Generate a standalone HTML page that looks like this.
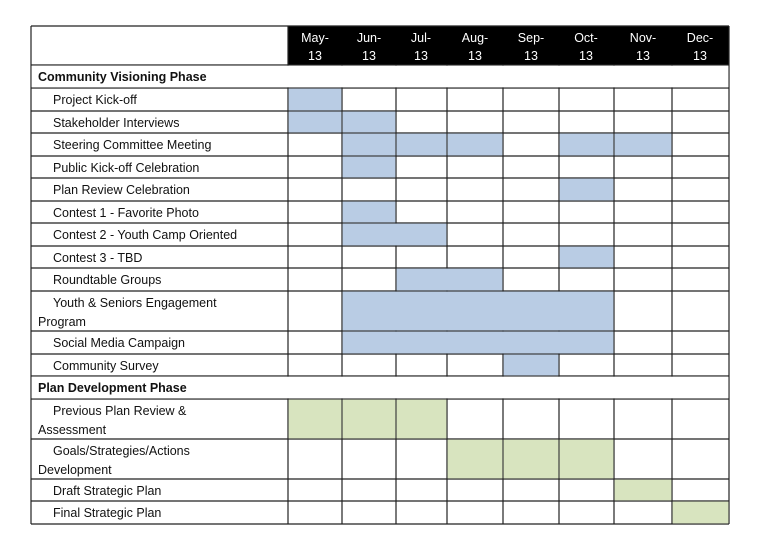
<!DOCTYPE html>
<html><head><meta charset="utf-8"><style>
body{margin:0;background:#fff;}
svg{display:block;}
text{font-family:"Liberation Sans",sans-serif;font-size:12.5px;fill:#111;}
</style></head><body>
<svg width="760" height="550" viewBox="0 0 760 550">
<rect x="288" y="26" width="441" height="39" fill="#000"/>
<g stroke="#222" stroke-width="1.2">
<!-- verticals full from 65 to 524 -->
<line x1="31" y1="26" x2="31" y2="524"/>
<line x1="729" y1="26" x2="729" y2="524"/>
<line x1="288" y1="26" x2="288" y2="524"/>
<line x1="342" y1="65" x2="342" y2="524"/>
<line x1="396" y1="65" x2="396" y2="524"/>
<line x1="447" y1="65" x2="447" y2="524"/>
<line x1="503" y1="65" x2="503" y2="524"/>
<line x1="559" y1="65" x2="559" y2="524"/>
<line x1="614" y1="65" x2="614" y2="524"/>
<line x1="672" y1="65" x2="672" y2="524"/>
<!-- horizontals -->
<line x1="31" y1="26" x2="729" y2="26"/>
<line x1="31" y1="65" x2="729" y2="65"/>
<line x1="31" y1="88" x2="729" y2="88"/>
<line x1="31" y1="111" x2="729" y2="111"/>
<line x1="31" y1="133" x2="729" y2="133"/>
<line x1="31" y1="156" x2="729" y2="156"/>
<line x1="31" y1="178" x2="729" y2="178"/>
<line x1="31" y1="201" x2="729" y2="201"/>
<line x1="31" y1="223" x2="729" y2="223"/>
<line x1="31" y1="246" x2="729" y2="246"/>
<line x1="31" y1="268" x2="729" y2="268"/>
<line x1="31" y1="291" x2="729" y2="291"/>
<line x1="31" y1="331" x2="729" y2="331"/>
<line x1="31" y1="354" x2="729" y2="354"/>
<line x1="31" y1="376" x2="729" y2="376"/>
<line x1="31" y1="399" x2="729" y2="399"/>
<line x1="31" y1="439" x2="729" y2="439"/>
<line x1="31" y1="479" x2="729" y2="479"/>
<line x1="31" y1="501" x2="729" y2="501"/>
<line x1="31" y1="524" x2="729" y2="524"/>
</g>
<!-- phase rows blank out verticals -->
<rect x="31.7" y="65.7" width="696.6" height="21.6" fill="#fff"/>
<rect x="31.7" y="376.7" width="696.6" height="21.6" fill="#fff"/>
<g fill="#b9cce4">
<rect x="288.6" y="88.6" width="52.8" height="21.8"/>
<rect x="288.6" y="111.6" width="52.8" height="20.8"/>
<rect x="342.6" y="111.6" width="52.8" height="20.8"/>
<rect x="342.6" y="133.6" width="52.8" height="21.8"/>
<rect x="396.6" y="133.6" width="49.8" height="21.8"/>
<rect x="447.6" y="133.6" width="54.8" height="21.8"/>
<rect x="559.6" y="133.6" width="53.8" height="21.8"/>
<rect x="614.6" y="133.6" width="56.8" height="21.8"/>
<rect x="342.6" y="156.6" width="52.8" height="20.8"/>
<rect x="559.6" y="178.6" width="53.8" height="21.8"/>
<rect x="342.6" y="201.6" width="52.8" height="20.8"/>
<rect x="342.6" y="223.6" width="103.8" height="21.8"/>
<rect x="559.6" y="246.6" width="53.8" height="20.8"/>
<rect x="396.6" y="268.6" width="105.8" height="21.8"/>
<rect x="342.6" y="291.6" width="270.8" height="38.8"/>
<rect x="342.6" y="331.6" width="270.8" height="21.8"/>
<rect x="503.6" y="354.6" width="54.8" height="20.8"/>
</g>
<g fill="#d8e4bf">
<rect x="288.6" y="399.6" width="52.8" height="38.8"/>
<rect x="342.6" y="399.6" width="52.8" height="38.8"/>
<rect x="396.6" y="399.6" width="49.8" height="38.8"/>
<rect x="447.6" y="439.6" width="54.8" height="38.8"/>
<rect x="503.6" y="439.6" width="54.8" height="38.8"/>
<rect x="559.6" y="439.6" width="53.8" height="38.8"/>
<rect x="614.6" y="479.6" width="56.8" height="20.8"/>
<rect x="672.6" y="501.6" width="55.8" height="21.8"/>
</g>
<g style="fill:#fff" text-anchor="middle">
<text x="315" y="42" style="fill:#fff">May-</text><text x="315" y="60" style="fill:#fff">13</text>
<text x="369" y="42" style="fill:#fff">Jun-</text><text x="369" y="60" style="fill:#fff">13</text>
<text x="421" y="42" style="fill:#fff">Jul-</text><text x="421" y="60" style="fill:#fff">13</text>
<text x="475" y="42" style="fill:#fff">Aug-</text><text x="475" y="60" style="fill:#fff">13</text>
<text x="531" y="42" style="fill:#fff">Sep-</text><text x="531" y="60" style="fill:#fff">13</text>
<text x="586" y="42" style="fill:#fff">Oct-</text><text x="586" y="60" style="fill:#fff">13</text>
<text x="643" y="42" style="fill:#fff">Nov-</text><text x="643" y="60" style="fill:#fff">13</text>
<text x="700" y="42" style="fill:#fff">Dec-</text><text x="700" y="60" style="fill:#fff">13</text>
</g>
<text x="38" y="81" font-weight="bold">Community Visioning Phase</text>
<text x="53" y="104">Project Kick-off</text>
<text x="53" y="127">Stakeholder Interviews</text>
<text x="53" y="149">Steering Committee Meeting</text>
<text x="53" y="172">Public Kick-off Celebration</text>
<text x="53" y="194">Plan Review Celebration</text>
<text x="53" y="217">Contest 1 - Favorite Photo</text>
<text x="53" y="239">Contest 2 - Youth Camp Oriented</text>
<text x="53" y="262">Contest 3 - TBD</text>
<text x="53" y="284">Roundtable Groups</text>
<text x="53" y="307">Youth &amp; Seniors Engagement</text>
<text x="38" y="326">Program</text>
<text x="53" y="347">Social Media Campaign</text>
<text x="53" y="370">Community Survey</text>
<text x="38" y="392" font-weight="bold">Plan Development Phase</text>
<text x="53" y="415">Previous Plan Review &amp;</text>
<text x="38" y="434">Assessment</text>
<text x="53" y="455">Goals/Strategies/Actions</text>
<text x="38" y="474">Development</text>
<text x="53" y="495">Draft Strategic Plan</text>
<text x="53" y="517">Final Strategic Plan</text>
</svg>
</body></html>
